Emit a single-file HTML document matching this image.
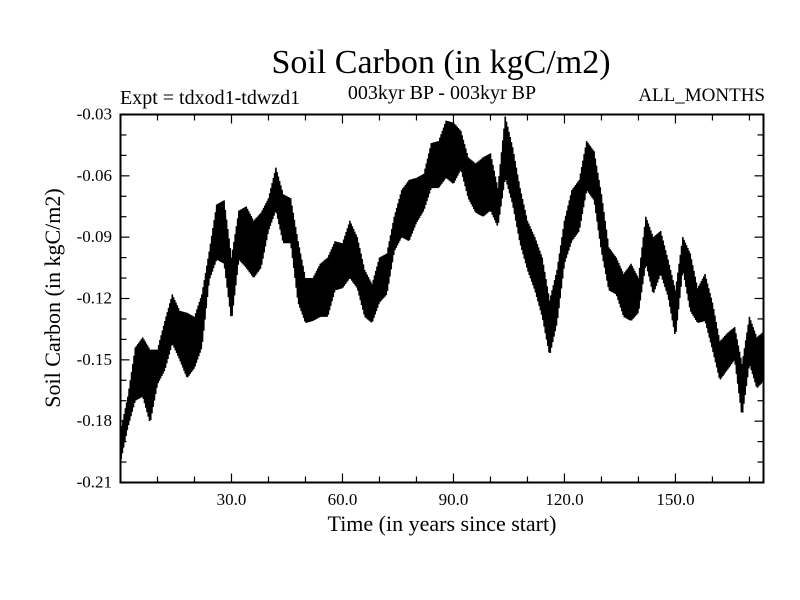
<!DOCTYPE html>
<html><head><meta charset="utf-8"><style>
body{margin:0;background:#fff}
svg{display:block;font-family:"Liberation Serif",serif}
</style></head><body>
<svg id="chart" width="800" height="600">
<rect width="800" height="600" fill="#fff"/>
<text x="441" y="73" font-size="34" text-anchor="middle">Soil Carbon (in kgC/m2)</text>
<text x="120" y="104" font-size="20">Expt = tdxod1-tdwzd1</text>
<text x="442" y="99" font-size="20" text-anchor="middle">003kyr BP - 003kyr BP</text>
<text x="765" y="101" font-size="19" text-anchor="end">ALL_MONTHS</text>
<text x="442" y="531" font-size="22" text-anchor="middle">Time (in years since start)</text>
<text transform="translate(60,298) rotate(-90)" font-size="22" text-anchor="middle">Soil Carbon (in kgC/m2)</text>
<g id="ticks"></g>
<g id="series"></g>
<rect x="120.5" y="114.5" width="643" height="368" fill="none" stroke="#000" stroke-width="2"/>
</svg>
<script>
const years = [0,2,4,6,8,10,12,14,16,18,20,22,24,26,28,30,32,34,36,38,40,42,44,46,48,50,52,54,56,58,60,62,64,66,68,70,72,74,76,78,80,82,84,86,88,90,92,94,96,98,100,102,104,106,108,110,112,114,116,118,120,122,124,126,128,130,132,134,136,138,140,142,144,146,148,150,152,154,156,158,160,162,164,166,168,170,172,174];
const hiValues = [-0.185,-0.168,-0.144,-0.139,-0.145,-0.145,-0.131,-0.118,-0.126,-0.127,-0.129,-0.118,-0.097,-0.074,-0.072,-0.100,-0.077,-0.075,-0.082,-0.078,-0.071,-0.056,-0.069,-0.071,-0.092,-0.110,-0.110,-0.103,-0.100,-0.092,-0.093,-0.082,-0.090,-0.106,-0.113,-0.100,-0.098,-0.080,-0.067,-0.062,-0.061,-0.059,-0.044,-0.043,-0.033,-0.034,-0.038,-0.051,-0.054,-0.051,-0.049,-0.066,-0.031,-0.046,-0.066,-0.082,-0.090,-0.100,-0.121,-0.106,-0.082,-0.067,-0.062,-0.043,-0.048,-0.069,-0.095,-0.100,-0.108,-0.103,-0.110,-0.080,-0.090,-0.087,-0.101,-0.116,-0.090,-0.098,-0.115,-0.108,-0.122,-0.141,-0.137,-0.134,-0.152,-0.129,-0.139,-0.136];
const loValues = [-0.200,-0.183,-0.170,-0.168,-0.181,-0.162,-0.155,-0.142,-0.150,-0.159,-0.154,-0.144,-0.111,-0.101,-0.103,-0.131,-0.101,-0.105,-0.110,-0.105,-0.087,-0.077,-0.093,-0.093,-0.122,-0.132,-0.131,-0.129,-0.129,-0.116,-0.115,-0.110,-0.115,-0.129,-0.132,-0.122,-0.118,-0.097,-0.090,-0.092,-0.083,-0.077,-0.066,-0.066,-0.061,-0.064,-0.057,-0.071,-0.078,-0.080,-0.077,-0.085,-0.061,-0.074,-0.093,-0.106,-0.116,-0.129,-0.148,-0.132,-0.103,-0.092,-0.087,-0.067,-0.072,-0.097,-0.116,-0.118,-0.129,-0.131,-0.127,-0.103,-0.118,-0.108,-0.119,-0.139,-0.106,-0.126,-0.132,-0.131,-0.145,-0.160,-0.155,-0.150,-0.178,-0.152,-0.164,-0.160];
const xTickValues = [30, 60, 90, 120, 150];
const xTickLabels = ["30.0","60.0","90.0","120.0","150.0"];
const yTickValues = [-0.21,-0.18,-0.15,-0.12,-0.09,-0.06,-0.03];
const yTickLabels = ["-0.21","-0.18","-0.15","-0.12","-0.09","-0.06","-0.03"];

const X0=120.5, X1=763.5, Y0=482.5, Y1=114.5, XMAX=173.8;
function xs(v){return X0+(v/XMAX)*(X1-X0);}
function ys(v){return Y0-(v+0.21)/0.18*(Y0-Y1);}
const NS="http://www.w3.org/2000/svg";
const tg=document.getElementById('ticks');
function line(x1,y1,x2,y2,name){const l=document.createElementNS(NS,'line');
l.setAttribute('x1',x1);l.setAttribute('y1',y1);l.setAttribute('x2',x2);l.setAttribute('y2',y2);
l.setAttribute('stroke','#000');l.setAttribute('stroke-width','1.2');


tg.appendChild(l);}
for(let v=10;v<XMAX;v+=10){const x=xs(v);const major=v%30===0;const L=major?9:6;
line(x,Y0,x,Y0-L,'x-tick');line(x,Y1,x,Y1+L,'x-tick-top');}
for(let i=0;i<=18;i++){const v=-0.21+i*0.01;const y=ys(v);const major=i%3===0;const L=major?9:6;
line(X0,y,X0+L,y,'y-tick');line(X1,y,X1-L,y,'y-tick-right');}
xTickValues.forEach((v,i)=>{const t=document.createElementNS(NS,'text');
t.setAttribute('x',xs(v));t.setAttribute('y',505);t.setAttribute('font-size','17');t.setAttribute('text-anchor','middle');


t.textContent=xTickLabels[i];tg.appendChild(t);});
yTickValues.forEach((v,i)=>{const t=document.createElementNS(NS,'text');
t.setAttribute('x',112);t.setAttribute('y',ys(v)+5);t.setAttribute('font-size','17');t.setAttribute('text-anchor','end');


t.textContent=yTickLabels[i];tg.appendChild(t);});
const pts=[];const step=1/6;let k=0;
for(let i=0;i<years.length-1;i++){
  for(let t=years[i];t<years[i+1]-1e-9;t+=step){
    const f=(t-years[i])/(years[i+1]-years[i]);
    const hi=hiValues[i]+(hiValues[i+1]-hiValues[i])*f;
    const lo=loValues[i]+(loValues[i+1]-loValues[i])*f;
    const v=(k%2===0)?hi:lo;k++;
    if(t<=XMAX)pts.push(xs(t).toFixed(2)+','+ys(v).toFixed(2));
  }
}
const pl=document.createElementNS(NS,'polyline');
pl.setAttribute('points',pts.join(' '));pl.setAttribute('fill','none');
pl.setAttribute('stroke','#000');pl.setAttribute('stroke-width','1.6');


document.getElementById('series').appendChild(pl);
</script>
</body></html>
